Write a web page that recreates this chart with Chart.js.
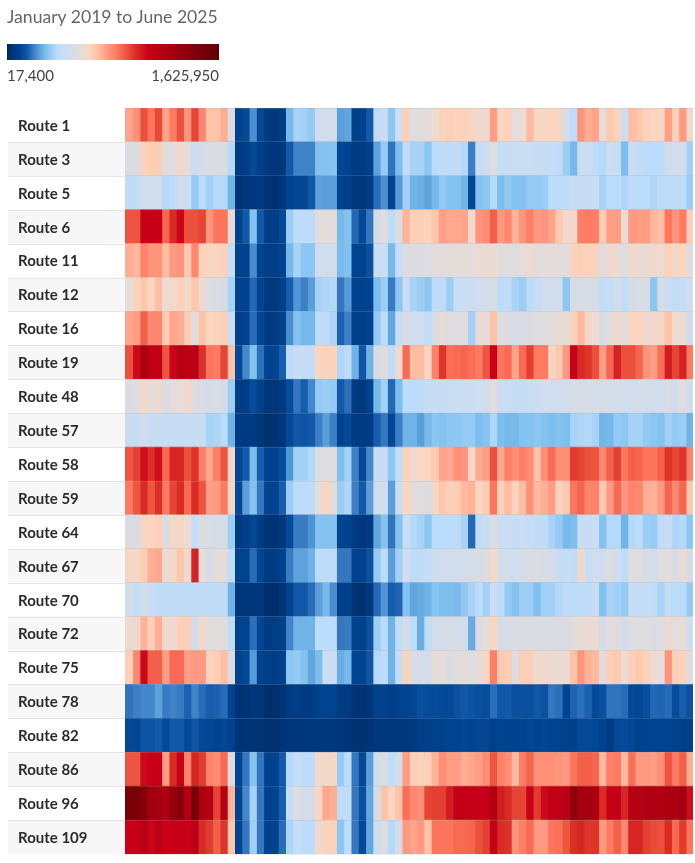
<!DOCTYPE html>
<html>
<head>
<meta charset="utf-8">
<title>Route heatmap</title>
<script src="https://cdn.jsdelivr.net/npm/chart.js@4"></script>
<style>
  body { margin: 0; background: #fff; font-family: Lato, sans-serif; overflow: hidden; }
  #wrap { position: relative; width: 695px; height: 863px; }
  #heat { position: absolute; left: 0; top: 0; }
  #title { position: absolute; left: 7px; top: 6px; font-size: 17.6px; color: #666; white-space: nowrap; }
  #bar { position: absolute; left: 7px; top: 44px; width: 212px; height: 16px; }
  #minLabel, #maxLabel { position: absolute; top: 66px; font-size: 15px; color: #444; }
  #minLabel { left: 7px; }
  #maxLabel { left: 7px; width: 212px; text-align: right; }
</style>
</head>
<body>
<div id="wrap">
  <canvas id="heat" width="695" height="863"></canvas>
  <div id="title">January 2019 to June 2025</div>
  <div id="bar"></div>
  <div id="minLabel">17,400</div>
  <div id="maxLabel">1,625,950</div>
</div>
<script>
const routes = ["Route 1", "Route 3", "Route 5", "Route 6", "Route 11", "Route 12", "Route 16", "Route 19", "Route 48", "Route 57", "Route 58", "Route 59", "Route 64", "Route 67", "Route 70", "Route 72", "Route 75", "Route 78", "Route 82", "Route 86", "Route 96", "Route 109"];

const months = [];
for (let y = 2019; y <= 2025; y++) {
  for (let m = 1; m <= 12; m++) {
    if (y === 2025 && m > 6) break;
    months.push(y + "-" + String(m).padStart(2, "0"));
  }
}

// monthly values in thousands
const route1 = [760,800,930,860,940,760,850,930,790,950,820,700,700,740,530,110,130,240,130,75,70,90,300,370,360,340,480,490,490,260,270,100,110,170,420,440,330,470,660,
  540,550,570,600,650,660,650,650,640,600,610,770,640,650,570,600,720,630,630,640,630,520,400,790,740,760,590,680,650,450,710,690,650,640,630,770,660,780,610];
const route3 = [530,530,650,670,670,550,540,620,570,450,500,520,530,530,390,85,90,130,100,70,65,70,170,225,225,225,320,320,325,125,120,85,80,100,265,340,205,310,420,
  370,370,330,400,420,420,420,390,220,440,450,550,430,440,450,460,450,440,440,430,420,350,300,460,450,410,390,450,440,310,460,420,400,400,400,480,470,490,360];
const route5 = [420,420,470,490,480,390,410,470,450,340,400,360,390,390,295,55,60,70,80,50,45,65,115,125,125,165,265,260,260,105,100,70,70,90,195,240,120,255,360,
  290,285,265,300,340,320,320,295,125,320,330,390,310,335,320,320,340,340,350,400,410,420,440,440,440,440,370,400,400,380,410,400,400,380,410,410,400,410,350];
const route6 = [920,920,1090,1100,1090,890,1000,1080,930,930,950,790,860,860,590,110,170,320,170,95,95,130,350,410,410,410,560,570,570,300,320,190,130,210,510,560,410,530,730,
  660,660,650,690,770,750,750,760,600,790,810,900,780,820,730,790,840,780,790,760,680,610,610,840,850,840,670,770,770,590,780,770,770,720,710,860,790,850,660];
const route11 = [740,720,830,790,790,710,780,790,680,820,650,640,640,650,430,105,110,235,120,95,95,115,300,370,330,330,470,480,480,305,315,120,120,150,440,450,300,430,540,
  530,530,540,560,570,570,570,580,570,590,590,600,550,550,540,570,600,560,570,570,570,570,650,660,650,650,550,610,600,540,610,590,590,610,600,650,620,640,540];
const route12 = [580,650,690,640,710,600,620,650,620,690,590,540,520,510,370,110,115,190,120,70,70,100,175,250,220,260,370,380,390,210,255,110,105,120,310,350,215,330,440,
  370,350,330,410,410,350,450,450,460,470,490,510,410,420,370,350,410,430,480,480,490,330,510,520,520,510,420,430,490,420,510,520,520,330,500,460,420,430,470];
const route16 = [760,770,900,820,820,670,760,740,670,560,700,640,650,660,450,100,110,195,125,75,75,105,240,320,300,300,420,410,380,180,220,100,100,120,340,400,270,430,520,
  480,470,420,530,580,540,550,550,360,590,580,700,540,530,510,530,530,550,550,550,590,590,650,720,620,600,520,560,610,540,640,640,600,620,630,700,600,590,490];
const route19 = [930,1070,1230,1130,1120,920,1080,1190,1160,1150,990,860,850,950,700,130,230,320,200,115,115,175,410,440,430,430,640,650,650,380,410,290,160,290,530,540,420,600,880,
  710,710,640,830,980,870,880,890,870,850,920,1090,860,880,760,880,960,850,850,640,680,780,1090,1000,980,930,770,890,1020,930,930,890,790,770,870,1030,950,1020,850];
const route48 = [530,550,620,570,610,530,570,580,610,560,520,510,520,510,350,85,90,140,105,60,60,80,140,210,175,230,340,350,340,170,200,75,70,110,300,360,190,310,400,
  400,410,440,440,440,440,450,450,460,470,480,560,460,440,430,440,440,450,470,470,480,480,510,510,510,500,500,500,490,470,480,500,490,480,480,520,480,560,470];
const route57 = [440,440,480,440,440,440,440,440,440,440,440,370,375,400,290,85,80,75,60,45,50,60,130,165,160,170,220,260,220,110,130,85,80,85,175,210,125,220,290,
  290,260,300,330,320,330,330,340,340,310,320,380,310,300,300,320,320,330,320,310,320,310,370,380,390,370,295,300,340,330,370,370,340,330,320,360,340,350,290];
const route58 = [920,960,1060,990,1060,880,1010,1010,930,980,840,750,840,920,620,125,170,310,175,105,105,140,250,360,360,390,540,540,540,310,360,220,130,230,430,440,330,430,650,
  600,630,640,680,760,750,800,790,620,750,770,930,750,840,800,840,810,700,810,880,800,800,970,950,930,920,820,900,960,860,900,890,860,860,900,980,950,980,830];
const route59 = [850,920,1000,920,990,850,950,1000,880,1000,920,770,780,850,620,130,260,320,210,115,115,175,350,410,410,410,570,640,560,350,380,220,170,260,480,480,260,450,640,
  570,550,530,620,690,660,670,720,730,640,670,860,650,710,650,710,800,720,740,770,650,680,860,890,830,830,680,780,880,790,830,820,740,730,780,890,820,890,680];
const route64 = [530,530,630,640,660,530,620,620,600,430,530,520,510,510,350,75,100,125,85,55,55,70,135,215,215,245,320,320,320,115,115,75,65,80,270,320,205,320,450,
  390,370,330,410,400,400,410,370,190,420,440,530,450,450,440,450,430,420,420,370,340,300,310,440,440,450,320,390,390,290,390,400,350,345,410,440,380,390,330];
const route67 = [620,630,670,740,750,590,620,690,600,1020,580,520,560,570,420,110,115,195,125,85,85,110,215,265,265,290,400,410,420,210,210,110,110,150,340,410,260,360,470,
  410,420,430,460,470,480,480,490,500,510,530,620,490,480,470,490,530,530,510,510,440,430,420,610,450,470,480,530,480,400,560,550,510,490,540,570,520,590,510];
const route70 = [500,420,490,440,420,420,420,420,420,420,420,420,420,420,290,60,65,60,70,40,40,55,120,165,165,195,260,300,240,100,105,50,45,70,190,250,175,185,320,
  270,280,290,325,310,310,305,335,370,400,360,450,410,340,320,350,350,315,360,360,390,410,410,420,410,440,315,370,360,340,430,430,430,420,370,420,400,400,340];
const route72 = [600,610,730,660,740,610,610,660,660,490,610,560,560,560,420,110,110,200,125,85,85,105,225,290,290,290,400,400,400,210,215,120,105,150,350,395,290,420,500,
  400,280,420,490,500,510,500,480,280,530,570,640,510,520,530,530,530,530,530,530,530,530,560,590,590,590,500,560,560,490,540,540,550,530,540,590,570,580,470];
const route75 = [660,820,1070,900,900,770,880,880,770,780,780,650,660,710,530,105,130,255,110,95,95,105,330,340,320,270,310,450,450,280,300,120,120,160,390,410,290,430,650,
  530,500,480,580,570,530,550,570,550,570,640,840,680,670,540,660,660,600,610,600,590,600,700,790,730,720,560,670,680,600,660,680,650,600,580,790,660,650,560];
const route78 = [205,220,230,230,265,215,225,215,180,225,195,175,180,195,120,50,55,60,65,40,45,55,85,90,75,85,110,115,115,75,80,55,50,60,105,110,95,110,115,
  125,145,140,140,135,130,150,165,155,145,140,200,165,170,145,150,145,165,150,210,200,120,185,200,180,135,150,205,205,195,130,125,145,190,185,195,140,175,150];
const route82 = [130,125,160,155,170,135,170,165,135,160,130,125,120,125,110,50,55,55,50,45,45,55,65,60,65,70,70,70,70,60,55,50,45,55,65,70,70,65,70,
  75,90,100,105,105,115,115,125,120,125,125,95,120,115,105,120,125,120,125,115,110,105,100,130,135,125,120,85,130,135,125,105,120,120,115,120,110,95,105];
const route86 = [920,920,1070,1090,1090,770,1000,1090,830,1010,970,830,810,880,550,115,210,320,205,110,110,170,390,430,410,410,620,620,620,340,400,210,130,260,480,530,400,510,770,
  660,650,660,730,810,770,770,740,750,770,810,920,830,810,720,840,890,800,800,800,790,780,860,900,900,890,720,840,850,720,870,780,780,770,800,920,850,900,740];
const route96 = [1480,1500,1420,1300,1260,1220,1350,1400,1210,1500,1230,1180,950,1180,730,115,230,370,210,110,115,175,430,540,500,500,630,750,740,410,420,210,145,270,510,700,640,700,870,
  820,800,950,960,960,1030,1110,1120,1100,1100,1100,1200,1030,1000,950,950,1090,970,1070,1130,1130,1160,1380,1260,1260,1230,1000,1090,1110,1010,1180,1180,1220,1220,1210,1230,1230,1280,1060];
const route109 = [1090,1100,1170,1080,1160,1090,1100,1090,1090,1150,1000,970,900,980,690,120,210,360,210,110,110,195,380,430,410,410,610,650,650,330,400,210,130,270,470,540,390,510,780,
  760,780,700,860,860,860,880,880,890,930,960,1110,1000,990,790,840,880,780,780,860,870,920,990,1010,980,980,780,850,900,820,1010,1010,960,940,930,1000,880,970,860];

const rows = [route1, route3, route5, route6, route11, route12, route16, route19, route48, route57, route58, route59, route64, route67, route70, route72, route75, route78, route82, route86, route96, route109];

// colour scale, value in thousands -> colour
const scaleValues = [17, 60, 120, 170, 220, 270, 310, 350, 400, 450, 520, 580, 640, 700, 770, 850, 920, 1000, 1090, 1250, 1450, 1626];
const scaleColors = ["#00285a", "#00367a", "#004491", "#1259aa", "#3d7fc6", "#62a6df", "#7cbfee", "#9ccdf5", "#bbdcfa", "#cbddf3", "#d8dce4", "#e6dcd8", "#fad6c0", "#ffc4a8", "#ff9d85", "#ff7a62", "#ee5540", "#d92a24", "#c80018", "#a80010", "#800008", "#5f0005"];

function hexToRgb(h) {
  return [1, 3, 5].map(i => parseInt(h.substr(i, 2), 16));
}

function colorFor(v) {
  let i = 0;
  while (i < scaleValues.length - 2 && v > scaleValues[i + 1]) i++;
  const f = Math.min(1, Math.max(0, (v - scaleValues[i]) / (scaleValues[i + 1] - scaleValues[i])));
  const a = hexToRgb(scaleColors[i]), b = hexToRgb(scaleColors[i + 1]);
  return "rgb(" + a.map((c, k) => Math.round(c + (b[k] - c) * f)).join(",") + ")";
}

// legend bar
const lo = scaleValues[0], hi = scaleValues[scaleValues.length - 1];
document.getElementById("bar").style.background = "linear-gradient(to right," +
  scaleColors.map((c, i) => c + " " + ((scaleValues[i] - lo) / (hi - lo) * 100).toFixed(1) + "%").join(",") + ")";

// zebra bands behind the route names
const labelBands = {
  id: "labelBands",
  beforeDraw(chart) {
    const y = chart.scales.y, c = chart.ctx;
    const h = y.getPixelForValue(1) - y.getPixelForValue(0);
    routes.forEach((r, i) => {
      const top = y.getPixelForValue(i) - h / 2;
      if (i % 2 === 1) {
        c.fillStyle = "#f7f7f7";
        c.fillRect(8, top, 117, h);
      }
      if (i > 0) {
        c.fillStyle = "#e4e4e4";
        c.fillRect(8, Math.round(top), 117, 1);
      }
    });
  }
};

new Chart(document.getElementById("heat").getContext("2d"), {
  type: "bar",
  plugins: [labelBands],
  data: {
    labels: routes,
    datasets: months.map((m, j) => ({
      label: m,
      // slight overlap so no seams show between the months
      data: routes.map(() => [j, j + 1.06]),
      backgroundColor: rows.map(r => colorFor(r[j])),
      barPercentage: 1,
      categoryPercentage: 1,
      grouped: false,
    })),
  },
  options: {
    indexAxis: "y",
    responsive: false,
    animation: false,
    layout: { padding: { left: 18, top: 108, right: 2, bottom: 8 } },
    plugins: {
      legend: { display: false },
      tooltip: {
        callbacks: {
          label: ctx => rows[ctx.dataIndex][ctx.datasetIndex] * 1000 + "",
        },
      },
    },
    scales: {
      x: { display: false, min: 0, max: 78 },
      y: {
        afterFit: s => { s.width = 107; },
        border: { display: false },
        grid: { color: "rgba(170,170,175,0.22)", drawTicks: false, z: 1 },
        ticks: {
          crossAlign: "far",
          padding: 0,
          labelOffset: 1,
          color: "#2b2b2b",
          font: { family: "Lato", size: 15, weight: "bold" },
        },
      },
    },
  },
});
</script>
</body>
</html>
